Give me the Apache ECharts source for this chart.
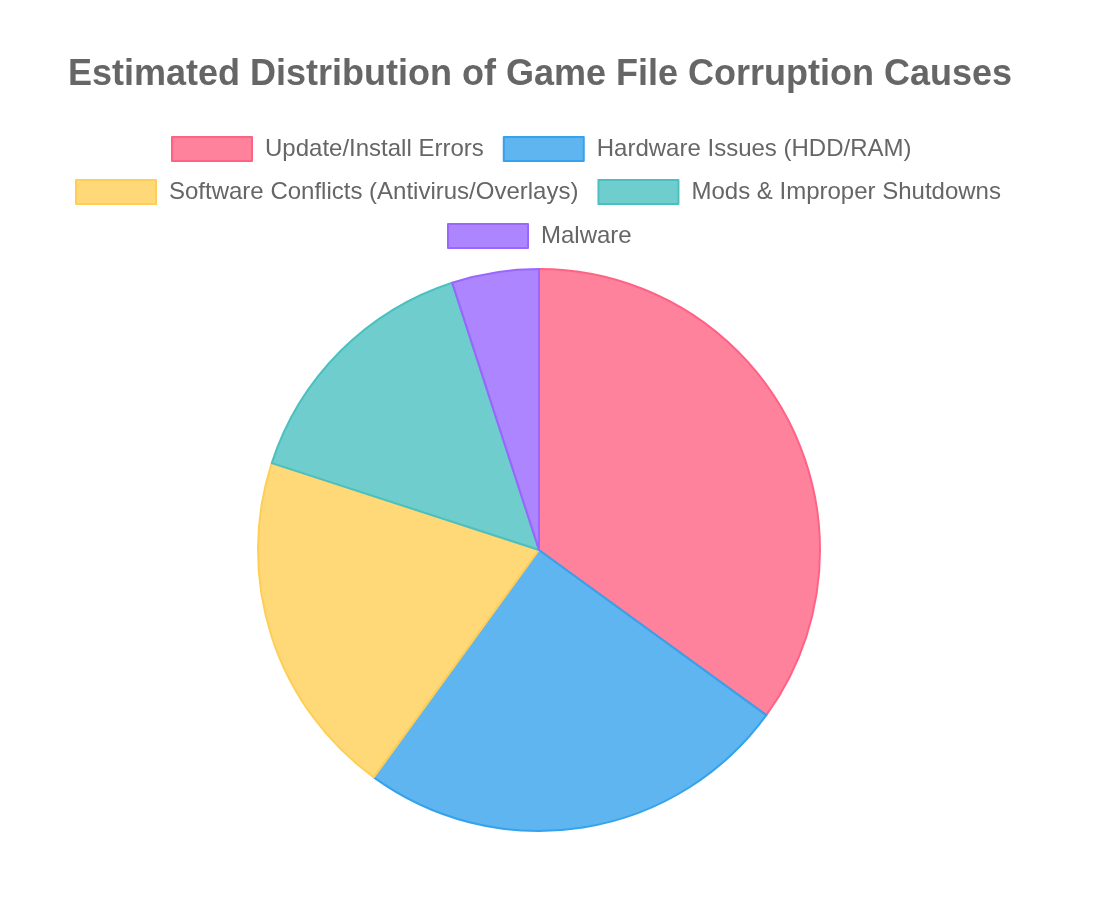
<!DOCTYPE html>
<html>
<head>
<meta charset="utf-8">
<script src="https://cdn.jsdelivr.net/npm/echarts@6/dist/echarts.min.js"></script>
<style>
html,body{margin:0;padding:0;background:#fff;}
#chart{width:1104px;height:904px;}
</style>
</head>
<body>
<div id="chart"></div>
<script>
const titleText = 'Estimated Distribution of Game File Corruption Causes';
const categories = ['Update/Install Errors', 'Hardware Issues (HDD/RAM)', 'Software Conflicts (Antivirus/Overlays)', 'Mods & Improper Shutdowns', 'Malware'];
const values = [35, 25, 20, 15, 5];
const legendRows = [[0, 1], [2, 3], [4]];

const baseColors = [[255,99,132],[54,162,235],[255,206,86],[75,192,192],[153,102,255]];
const fills = baseColors.map(c => `rgba(${c[0]},${c[1]},${c[2]},0.8)`);
const borders = baseColors.map(c => `rgb(${c[0]},${c[1]},${c[2]})`);
const FONT = '"Helvetica Neue", Helvetica, "Liberation Sans", Arial, sans-serif';

const chart = echarts.init(document.getElementById('chart'), null, {renderer: 'canvas'});
const rowTops = [136, 179, 223];
const rowLefts = [171, 75, 447];
const legends = legendRows.map((row, r) => ({
  left: rowLefts[r],
  top: rowTops[r],
  padding: 0,
  orient: 'horizontal',
  itemWidth: 80,
  itemHeight: 24,
  itemGap: 19,
  icon: 'rect',
  selectedMode: false,
  textStyle: {fontSize: 24, color: '#666', fontFamily: FONT, padding: [0, 0, 0, 8]},
  data: row.map(i => ({
    name: categories[i],
    itemStyle: {color: fills[i], borderColor: borders[i], borderWidth: 2}
  }))
}));

chart.setOption({
  animation: false,
  color: fills,
  title: {
    text: titleText,
    left: 63,
    top: 52,
    textStyle: {fontSize: 36, fontWeight: 'bold', color: '#666', fontFamily: FONT}
  },
  legend: legends,
  series: [{
    type: 'pie',
    center: [539, 550],
    radius: [0, 281],
    startAngle: 90,
    clockwise: true,
    label: {show: false},
    labelLine: {show: false},
    emphasis: {disabled: true},
    data: categories.map((name, i) => ({
      name: name,
      value: values[i],
      itemStyle: {color: fills[i], borderColor: borders[i], borderWidth: 2}
    }))
  }]
});
</script>
</body>
</html>
